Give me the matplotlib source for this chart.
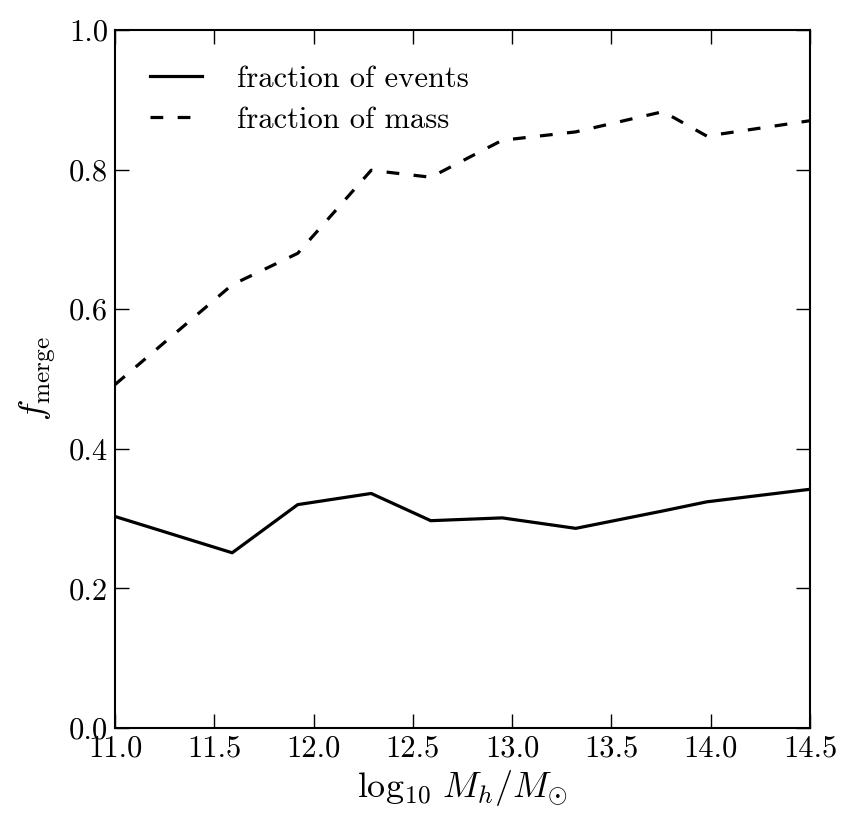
import numpy as np
import matplotlib
matplotlib.use("Agg")
import matplotlib.pyplot as plt

plt.rcParams['font.family'] = 'serif'
plt.rcParams['font.serif'] = ['cmr10']
plt.rcParams['mathtext.fontset'] = 'cm'
plt.rcParams['axes.formatter.use_mathtext'] = True

# halo mass bins and merge fractions
log_mh = [11.0, 11.59, 11.92, 12.29, 12.59, 12.95, 13.32, 13.76, 13.98, 14.5]
frac_events = [0.303, 0.251, 0.320, 0.336, 0.297, 0.301, 0.286, 0.311, 0.324, 0.342]
frac_mass = [0.492, 0.635, 0.680, 0.799, 0.789, 0.842, 0.854, 0.883, 0.848, 0.870]

fig = plt.figure(figsize=(8.54, 8.3), dpi=100)
ax = fig.add_axes([0.1347, 0.1229, 0.8138, 0.841])

ax.plot(log_mh, frac_events, color='black', lw=2.3, label='fraction of events')
ax.plot(log_mh, frac_mass, color='black', lw=2.3, dashes=(4, 4.5), label='fraction of mass')

ax.set_xlim(11.0, 14.5)
ax.set_ylim(0.0, 1.0)
ax.set_xticks(np.arange(11.0, 14.51, 0.5))
ax.set_yticks(np.arange(0.0, 1.01, 0.2))
ax.set_xticklabels(['%.1f' % v for v in np.arange(11.0, 14.51, 0.5)])
ax.set_yticklabels(['%.1f' % v for v in np.arange(0.0, 1.01, 0.2)])
ax.tick_params(direction='in', top=True, right=True, length=10, width=1,
               labelsize=22, pad=5)
for s in ax.spines.values():
    s.set_linewidth(1.5)

ax.set_xlabel(r'$\log_{10}\,M_h/M_{\odot}$', fontsize=26, labelpad=4)
ax.set_ylabel(r'$f_{\rm merge}$', fontsize=26, labelpad=8)

ax.legend(loc='upper left', frameon=False, fontsize=22, handlelength=1.7,
          handletextpad=1.15, labelspacing=0.45, borderaxespad=0.75)

fig.savefig('out.png', dpi=100)
